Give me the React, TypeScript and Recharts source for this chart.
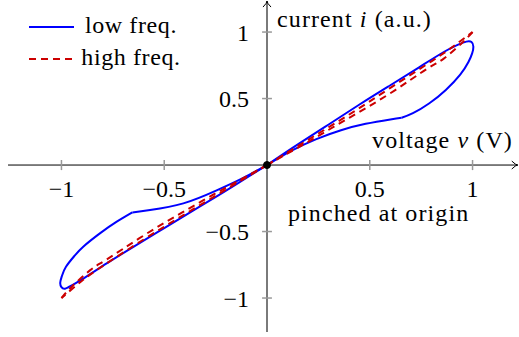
import {
  LineChart,
  Line,
  XAxis,
  YAxis,
  ReferenceLine,
  ReferenceDot,
  Legend,
} from "recharts";

const FONT = "'Liberation Serif', 'Times New Roman', serif";
const TEXT_SIZE = 24;

// low frequency loop, v > 0: origin -> upper branch -> tip -> down to the knee
const lowPosV = [0, 0.15, 0.3, 0.45, 0.6, 0.74, 0.86, 0.93, 0.97, 0.995, 1.004, 0.998, 0.98, 0.94, 0.87, 0.79, 0.71, 0.655];
const lowPosI = [0, 0.155, 0.305, 0.455, 0.6, 0.735, 0.85, 0.905, 0.928, 0.925, 0.89, 0.84, 0.775, 0.68, 0.565, 0.465, 0.39, 0.356];
// knee back to the origin
const lowPosKneeV = [0.655, 0.6, 0.48, 0.36, 0.24, 0.12, 0];
const lowPosKneeI = [0.356, 0.343, 0.31, 0.262, 0.195, 0.108, 0];

// low frequency loop, v < 0
const lowNegV = [0, -0.16, -0.33, -0.49, -0.65, -0.78, -0.89, -0.95, -0.983, -1.0, -1.006, -0.998, -0.978, -0.935, -0.894, -0.813, -0.731, -0.655];
const lowNegI = [0, -0.155, -0.315, -0.465, -0.615, -0.74, -0.85, -0.905, -0.93, -0.918, -0.885, -0.835, -0.765, -0.68, -0.614, -0.514, -0.426, -0.356];
const lowNegKneeV = [-0.655, -0.569, -0.407, -0.245, -0.12, 0];
const lowNegKneeI = [-0.356, -0.338, -0.288, -0.19, -0.1, 0];

// high frequency loop: nearly a straight line, thin lens on each side
const highPosUpV = [0, 0.2, 0.4, 0.6, 0.8, 0.9, 1.0];
const highPosUpI = [0, 0.19, 0.38, 0.58, 0.78, 0.885, 1.0];
const highPosDownV = [1.0, 0.95, 0.86, 0.78, 0.6, 0.4, 0.2, 0];
const highPosDownI = [1.0, 0.92, 0.8, 0.725, 0.54, 0.355, 0.175, 0];
const highNegDownV = [0, -0.2, -0.4, -0.6, -0.8, -0.9, -1.0];
const highNegDownI = [0, -0.185, -0.37, -0.56, -0.76, -0.87, -1.0];
const highNegUpV = [-1.0, -0.95, -0.86, -0.78, -0.6, -0.4, -0.2, 0];
const highNegUpI = [-1.0, -0.915, -0.79, -0.71, -0.53, -0.345, -0.17, 0];

const xTicks = [-1, -0.5, 0.5, 1];
const xTickLabels = ["−1", "−0.5", "0.5", "1"];
const yTicks = [-1, -0.5, 0.5, 1];
const yTickLabels = ["−1", "−0.5", "0.5", "1"];

const seriesNames = ["low freq.", "high freq."];

const X_DOMAIN: [number, number] = [-1.299, 1.226];
const Y_DOMAIN: [number, number] = [-1.293, 1.241];

const BLUE = "#0000ff";
const RED = "#cc0000";
const DASH = "7 5";

const zip = (v: number[], i: number[]) => v.map((x, k) => ({ v: x, i: i[k] }));

const lowSegments = [
  zip(lowPosV, lowPosI),
  zip(lowPosKneeV, lowPosKneeI),
  zip(lowNegV, lowNegI),
  zip(lowNegKneeV, lowNegKneeI),
];
const highSegments = [
  zip(highPosUpV, highPosUpI),
  zip(highPosDownV, highPosDownI),
  zip(highNegDownV, highNegDownI),
  zip(highNegUpV, highNegUpI),
];

function ArrowRight({ cx, cy }: any) {
  return <path d={`M${cx - 6},${cy - 4} Q${cx - 2},${cy} ${cx},${cy} Q${cx - 2},${cy} ${cx - 6},${cy + 4}`} stroke="#000" fill="none" strokeWidth={1} />;
}

function ArrowUp({ cx, cy }: any) {
  return <path d={`M${cx - 4},${cy + 6} Q${cx},${cy + 2} ${cx},${cy} Q${cx},${cy + 2} ${cx + 4},${cy + 6}`} stroke="#000" fill="none" strokeWidth={1} />;
}

function Note({ cx, cy, parts }: any) {
  return (
    <text x={cx} y={cy} fontFamily={FONT} fontSize={TEXT_SIZE} fill="#000" letterSpacing={1.1}>
      {parts.map((p: [string, boolean], k: number) => (
        <tspan key={k} fontStyle={p[1] ? "italic" : "normal"}>{p[0]}</tspan>
      ))}
    </text>
  );
}

function LoopLegend() {
  return (
    <svg width={200} height={80}>
      <line x1={29} x2={74} y1={27} y2={27} stroke={BLUE} strokeWidth={2} />
      <line x1={29} x2={74} y1={59} y2={59} stroke={RED} strokeWidth={2} strokeDasharray={DASH} />
      <text x={131} y={33} textAnchor="middle" fontFamily={FONT} fontSize={TEXT_SIZE} letterSpacing={0.6}>{seriesNames[0]}</text>
      <text x={131} y={65} textAnchor="middle" fontFamily={FONT} fontSize={TEXT_SIZE} letterSpacing={0.6}>{seriesNames[1]}</text>
    </svg>
  );
}

export default function App() {
  const labelStyle = { fill: "#000", fontSize: TEXT_SIZE, fontFamily: FONT };
  return (
    <div style={{ position: "absolute", left: 0, top: 0 }}>
      <LineChart width={519} height={337} margin={{ top: 0, right: 0, bottom: 0, left: 0 }}>
        <XAxis type="number" dataKey="v" domain={X_DOMAIN} allowDataOverflow hide />
        <YAxis type="number" dataKey="i" domain={Y_DOMAIN} allowDataOverflow hide />

        {/* axes through the origin */}
        <ReferenceLine segment={[{ x: -1.26, y: 0 }, { x: 1.22, y: 0 }]} stroke="#000" strokeWidth={1} />
        <ReferenceLine segment={[{ x: 0, y: -1.256 }, { x: 0, y: 1.233 }]} stroke="#7a7a7a" strokeWidth={2} />
        <ReferenceDot x={1.22} y={0} r={1} shape={ArrowRight} />
        <ReferenceDot x={0} y={1.233} r={1} shape={ArrowUp} />

        {xTicks.map((t, k) => (
          <ReferenceLine
            key={`xt${k}`}
            segment={[{ x: t, y: -0.038 }, { x: t, y: 0.038 }]}
            stroke="#999"
            strokeWidth={1.5}
            label={{ value: xTickLabels[k], position: "bottom", offset: 10, ...labelStyle }}
          />
        ))}
        {yTicks.map((t, k) => (
          <ReferenceLine
            key={`yt${k}`}
            segment={[{ x: -0.024, y: t }, { x: 0.024, y: t }]}
            stroke="#999"
            strokeWidth={1.5}
            label={{ value: yTickLabels[k], position: "left", offset: 13, ...labelStyle }}
          />
        ))}

        {lowSegments.map((d, k) => (
          <Line
            key={`low${k}`}
            data={d}
            dataKey="i"
            type="natural"
            stroke={BLUE}
            strokeWidth={2}
            dot={false}
            activeDot={false}
            isAnimationActive={false}
            legendType="none"
          />
        ))}
        {highSegments.map((d, k) => (
          <Line
            key={`high${k}`}
            data={d}
            dataKey="i"
            type="natural"
            stroke={RED}
            strokeWidth={2}
            strokeDasharray={DASH}
            dot={false}
            activeDot={false}
            isAnimationActive={false}
            legendType="none"
          />
        ))}

        <ReferenceDot x={0} y={0} r={3.5} fill="#000" stroke="#000" />

        <ReferenceDot x={0.049} y={1.038} r={1} shape={(p: any) => <Note {...p} parts={[["current ", false], ["i", true], [" (a.u.)", false]]} />} />
        <ReferenceDot x={0.511} y={0.128} r={1} shape={(p: any) => <Note {...p} parts={[["voltage ", false], ["v", true], [" (V)", false]]} />} />
        <ReferenceDot x={0.102} y={-0.421} r={1} shape={(p: any) => <Note {...p} parts={[["pinched at origin", false]]} />} />

        <Legend
          layout="vertical"
          align="center"
          verticalAlign="middle"
          wrapperStyle={{ top: 0, left: 0, width: 200 }}
          content={() => <LoopLegend />}
        />
      </LineChart>
    </div>
  );
}
